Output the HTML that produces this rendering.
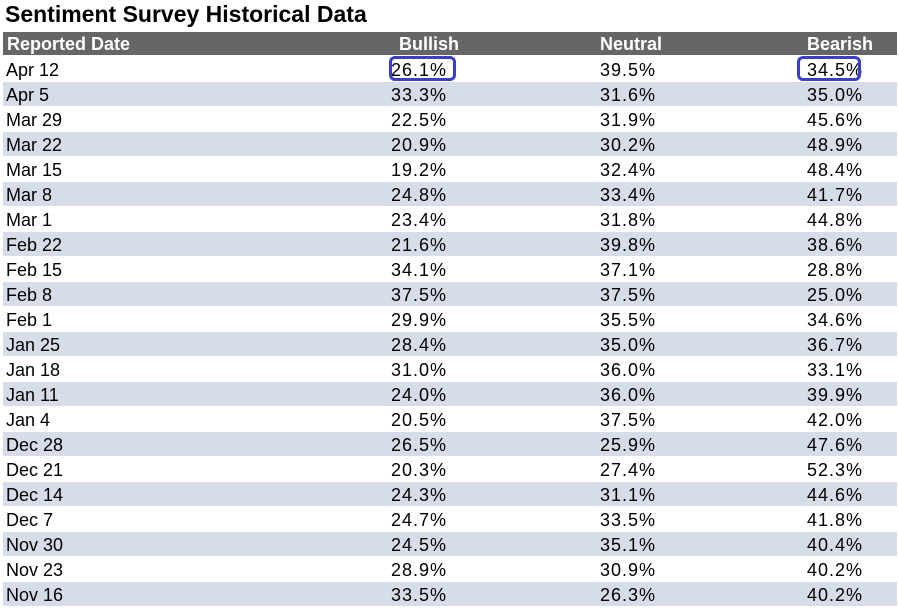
<!DOCTYPE html>
<html><head><meta charset="utf-8"><style>
body{margin:0;width:899px;height:610px;background:#fff;font-family:"Liberation Sans",Arial,sans-serif;position:relative;overflow:hidden}
.t{position:absolute;left:5px;top:1px;font-size:23px;font-weight:bold;color:#000}
.hdr{position:absolute;left:3px;top:32px;width:894px;height:23px;background:#666}
.hdr span{position:absolute;top:2px;color:#fff;font-weight:bold;font-size:18px}
.row{position:absolute;left:3px;width:894px;height:24px}
.row span{position:absolute;top:3px;font-size:18px;color:#000}
.row span.v{letter-spacing:1px}
.box{position:absolute;border:3px solid #3a3fc8;border-radius:6px;box-sizing:border-box}
</style></head><body>
<div class="t">Sentiment Survey Historical Data</div>
<div class="hdr">
<span style="left:396px">Bullish</span>
<span style="left:4px">Reported Date</span>
<span style="left:597px">Neutral</span>
<span style="left:804px">Bearish</span>
</div>
<div id="rows"></div>
<div class="box" style="left:389px;top:56px;width:67px;height:25px"></div>
<div class="box" style="left:797px;top:56px;width:64px;height:25px"></div>
<script>
const dates=["Apr 12","Apr 5","Mar 29","Mar 22","Mar 15","Mar 8","Mar 1","Feb 22","Feb 15","Feb 8","Feb 1","Jan 25","Jan 18","Jan 11","Jan 4","Dec 28","Dec 21","Dec 14","Dec 7","Nov 30","Nov 23","Nov 16"];
const bullish=[26.1,33.3,22.5,20.9,19.2,24.8,23.4,21.6,34.1,37.5,29.9,28.4,31.0,24.0,20.5,26.5,20.3,24.3,24.7,24.5,28.9,33.5];
const neutral=[39.5,31.6,31.9,30.2,32.4,33.4,31.8,39.8,37.1,37.5,35.5,35.0,36.0,36.0,37.5,25.9,27.4,31.1,33.5,35.1,30.9,26.3];
const bearish=[34.5,35.0,45.6,48.9,48.4,41.7,44.8,38.6,28.8,25.0,34.6,36.7,33.1,39.9,42.0,47.6,52.3,44.6,41.8,40.4,40.2,40.2];
const host=document.getElementById('rows');
dates.forEach((d,i)=>{
  const r=document.createElement('div');
  r.className='row';
  
  
  r.style.top=(57+i*25)+'px';
  r.style.background=i%2?'#d7dde8':'#fff';
  const cells=[[d,3],[bullish[i].toFixed(1)+'%',388],[neutral[i].toFixed(1)+'%',597],[bearish[i].toFixed(1)+'%',804]];
  const names=['date-cell','bullish-cell','neutral-cell','bearish-cell'];
  cells.forEach((c,j)=>{
    const s=document.createElement('span');
    
    
    if(j>0) s.className='v';
    s.style.left=c[1]+'px';
    s.textContent=c[0];
    r.appendChild(s);
  });
  host.appendChild(r);
});
</script>
</body></html>
